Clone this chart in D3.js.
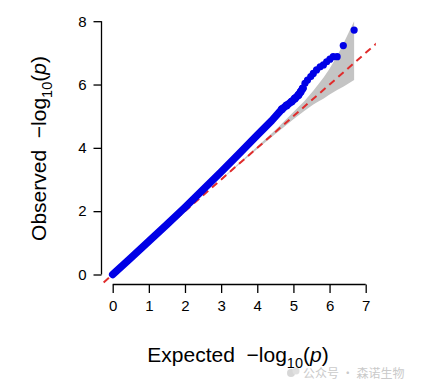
<!DOCTYPE html>
<html>
<head>
<meta charset="utf-8">
<script src="https://cdn.jsdelivr.net/npm/d3@7"></script>
<style>
  html, body { margin: 0; padding: 0; background: #fff; }
  svg { display: block; }
  text { font-family: "Liberation Sans", Arial, Helvetica, sans-serif; fill: #000; }
</style>
</head>
<body>
<svg id="chart" width="428" height="387"></svg>
<script>
// ---- data ----
const xTicks = [0, 1, 2, 3, 4, 5, 6, 7];
const yTicks = [0, 2, 4, 6, 8];

// dense part of the observed vs expected curve
const denseExp = [0, 0.5, 1.0, 1.5, 2.0, 2.5, 3.0, 3.5, 4.0, 4.4, 4.68, 4.81, 4.95, 5.04, 5.14, 5.20, 5.26];
const denseObs = [0, 0.52, 1.05, 1.58, 2.12, 2.68, 3.24, 3.82, 4.40, 4.86, 5.22, 5.34, 5.46, 5.56, 5.67, 5.77, 5.88];

// sparse tail points
const tailExp = [5.32, 5.39, 5.48, 5.55, 5.64, 5.74, 5.83, 5.92, 6.01, 6.10, 6.21, 6.38, 6.68];
const tailObs = [6.04, 6.14, 6.25, 6.35, 6.46, 6.56, 6.62, 6.72, 6.80, 6.88, 6.88, 7.23, 7.72];

// 95% confidence band
const bandExp   = [3.0, 4.0, 4.5, 4.69, 5.0, 5.3, 5.55, 5.69, 5.84, 5.99, 6.21, 6.39, 6.68];
const bandUpper = [3.01, 4.04, 4.56, 4.78, 5.13, 5.47, 5.80, 6.01, 6.23, 6.48, 6.90, 7.31, 8.0];
const bandLower = [2.99, 3.96, 4.44, 4.61, 4.90, 5.16, 5.37, 5.46, 5.56, 5.68, 5.83, 5.94, 6.14];

// ---- drawing ----
const svg = d3.select("#chart");
const x = d3.scaleLinear().domain([0, 7]).range([112.7, 365.7]);
const y = d3.scaleLinear().domain([0, 8]).range([274.5, 21.2]);

svg.append("defs").append("clipPath").attr("id", "plotclip")
  .append("rect")
  .attr("x", 101.5).attr("y", 5)
  .attr("width", x(7.28) - 101.5).attr("height", 284.5 - 5);

const plot = svg.append("g").attr("clip-path", "url(#plotclip)");

// confidence band
const band = bandExp.map((e, i) => ({e, u: bandUpper[i], l: bandLower[i]}));
plot.append("path")
  .datum(band)
  .attr("fill", "#c4c4c4")
  .attr("stroke", "none")
  .attr("d", d3.area().x(d => x(d.e)).y0(d => y(d.l)).y1(d => y(d.u)));

// y = x reference line
plot.append("line")
  .attr("x1", x(-0.5)).attr("y1", y(-0.5))
  .attr("x2", x(8)).attr("y2", y(8))
  .attr("stroke", "#e02c2c")
  .attr("stroke-width", 2)
  .attr("stroke-dasharray", "7,5");

// dense observed curve
const dense = denseExp.map((e, i) => ({e, o: denseObs[i]}));
plot.append("path")
  .datum(dense)
  .attr("fill", "none")
  .attr("stroke", "#0000e6")
  .attr("stroke-width", 7.5)
  .attr("stroke-linecap", "round")
  .attr("stroke-linejoin", "round")
  .attr("d", d3.line().x(d => x(d.e)).y(d => y(d.o)));

plot.selectAll("circle.dense")
  .data(dense.slice(10))
  .enter().append("circle")
  .attr("class", "dense")
  .attr("cx", d => x(d.e)).attr("cy", d => y(d.o))
  .attr("r", 3.9)
  .attr("fill", "#0000e6");

// tail points
const tail = tailExp.map((e, i) => ({e, o: tailObs[i]}));
svg.selectAll("circle.tail")
  .data(tail)
  .enter().append("circle")
  .attr("class", "tail")
  .attr("cx", d => x(d.e)).attr("cy", d => y(d.o))
  .attr("r", 3.6)
  .attr("fill", "#0000e6");

// ---- axes ----
const xAxis = svg.append("g").attr("transform", "translate(0,284.5)")
  .call(d3.axisBottom(x).tickValues(xTicks).tickSize(8.5).tickPadding(7).tickFormat(d3.format("d")));
const yAxis = svg.append("g").attr("transform", "translate(101.5,0)")
  .call(d3.axisLeft(y).tickValues(yTicks).tickSize(8).tickPadding(7).tickFormat(d3.format("d")));

[xAxis, yAxis].forEach(g => {
  g.select(".domain").attr("stroke", "#000").attr("stroke-width", 1.3);
  g.selectAll(".tick line").attr("stroke", "#000").attr("stroke-width", 1.3);
  g.selectAll(".tick text").attr("font-size", 15).attr("fill", "#111")
    .style("font-family", "'Liberation Sans', Arial, sans-serif");
});
xAxis.select(".domain").attr("d", `M${x(0)},0H${x(7)}`);
yAxis.select(".domain").attr("d", `M0,${y(0)}V${y(8)}`);

// ---- titles ----
function title(sel, main) {
  sel.append("tspan").text(main);
  sel.append("tspan").attr("font-size", 14.5).attr("dy", 6.5).text("10");
  sel.append("tspan").attr("dy", -6.5).text("(");
  sel.append("tspan").attr("font-style", "italic").text("p");
  sel.append("tspan").text(")");
}
const xt = svg.append("text")
  .attr("x", 238).attr("y", 361.5)
  .attr("text-anchor", "middle")
  .attr("font-size", 21)
  .attr("xml:space", "preserve");
title(xt, "Expected  \u2212log");

const yt = svg.append("text")
  .attr("transform", "translate(45.5,148.5) rotate(-90)")
  .attr("text-anchor", "middle")
  .attr("font-size", 21)
  .attr("xml:space", "preserve");
title(yt, "Observed  \u2212log");

// ---- faint watermark ----
const wm = svg.append("g").attr("opacity", 0.55);
wm.append("circle").attr("cx", 291).attr("cy", 373).attr("r", 4).attr("fill", "#b8b8b8");
wm.append("circle").attr("cx", 296).attr("cy", 371).attr("r", 3.5).attr("fill", "#c8c8c8");
wm.append("text")
  .attr("x", 303).attr("y", 378)
  .attr("font-size", 12)
  .style("font-family", "'Noto Sans CJK SC', sans-serif")
  .style("fill", "#a0a0a0")
  .text("公众号 · 森诺生物");
</script>
</body>
</html>
